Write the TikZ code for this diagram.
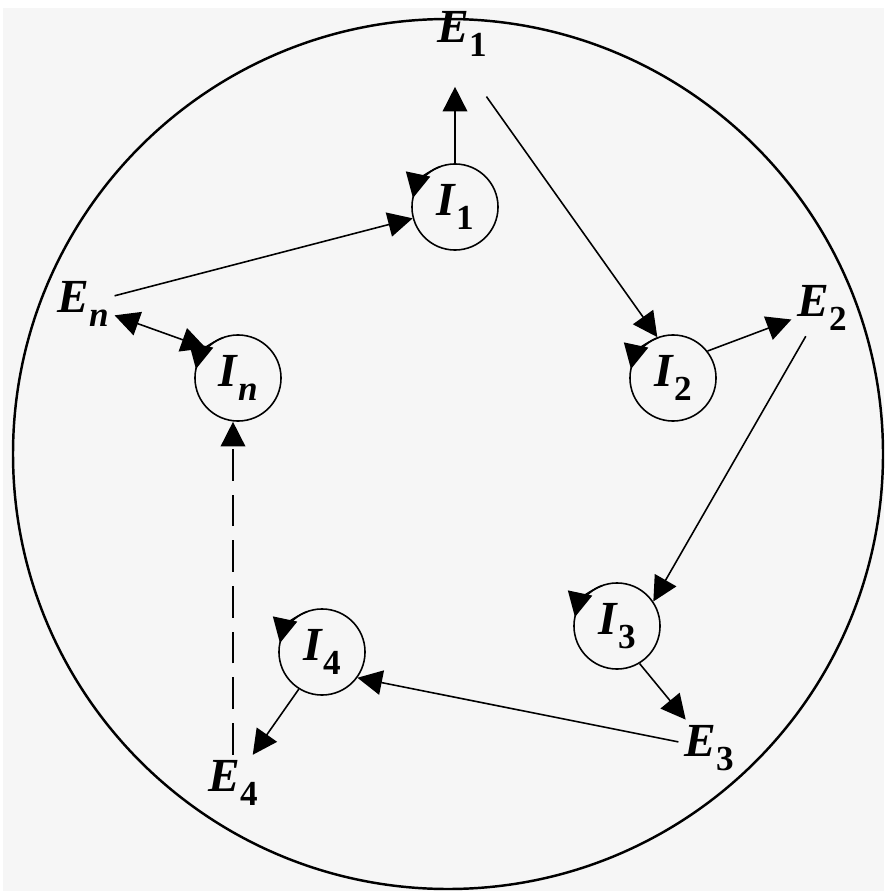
\documentclass[tikz,border=0pt]{standalone}
\usepackage{fontspec}
\setmainfont{Liberation Serif}
\usetikzlibrary{arrows.meta,calc}
\definecolor{PaperGray}{HTML}{F6F6F6}
\newcommand{\sym}[2]{\textbf{\textit{#1}}\raisebox{-3.8pt}{\fontsize{10}{11}\selectfont\textbf{#2}}}

\begin{document}
\begin{tikzpicture}[x=0.01cm, y=0.01cm,
  inode/.style={draw, circle, line width=0.45pt, minimum size=0.86cm, inner sep=0pt, font=\fontsize{13.5}{16}\selectfont},
  enode/.style={inner sep=1.5pt, font=\fontsize{13.5}{16}\selectfont},
  link/.style={line width=0.45pt, -{Triangle[length=7pt,width=7pt]}},
  selftip/.style={line width=0.45pt, -{Triangle[length=7pt,width=7pt]}}]
\useasboundingbox (0,0) rectangle (884,-891);
\fill[PaperGray] (3,-8) rectangle (884,-891);
\draw[line width=0.7pt] (448,-454) circle (435);

% internal states
\node[inode] (I1) at (455,-207) {\sym{I}{1}};
\node[inode] (I2) at (673,-378) {\sym{I}{2}};
\node[inode] (I3) at (617,-626) {\sym{I}{3}};
\node[inode] (I4) at (322,-652) {\sym{I}{4}};
\node[inode] (In) at (238,-378) {\sym{I}{\textit{n}}};

% external states
\node[enode] (E1) at (462,-34) {\sym{E}{1}};
\node[enode] (E2) at (822,-308) {\sym{E}{2}};
\node[enode] (E3) at (709,-748) {\sym{E}{3}};
\node[enode] (E4) at (233,-783) {\sym{E}{4}};
\node[enode] (En) at (83,-304) {\sym{E}{\textit{n}}};

% self loops
\foreach \s in {I1,I2,I3,I4,In}
  \draw[selftip] ($(\s)+(110:43)$) arc (110:168:43);

\draw[link, shorten >=7pt] (I1.north) -- (I1.north |- E1.south);
\draw[link] (En) -- (I1.195);
\draw[link, shorten <=12pt] (E1.south) -- (I2.111);
\draw[link] (I2.38) -- (E2);
\draw[link] (E2) -- (I3.34);
\draw[link] (I3.301) -- (E3);
\draw[link] (E3) -- (I4.324);
\draw[link] (I4.238) -- (E4);
\draw[link, dashed, dash pattern=on 9pt off 4pt] (E4.north) -- (E4.north |- In.south);
\draw[link, {Triangle[length=7pt,width=7pt]}-{Triangle[length=7pt,width=7pt]}] (En) -- (In.137);
\end{tikzpicture}
\end{document}
